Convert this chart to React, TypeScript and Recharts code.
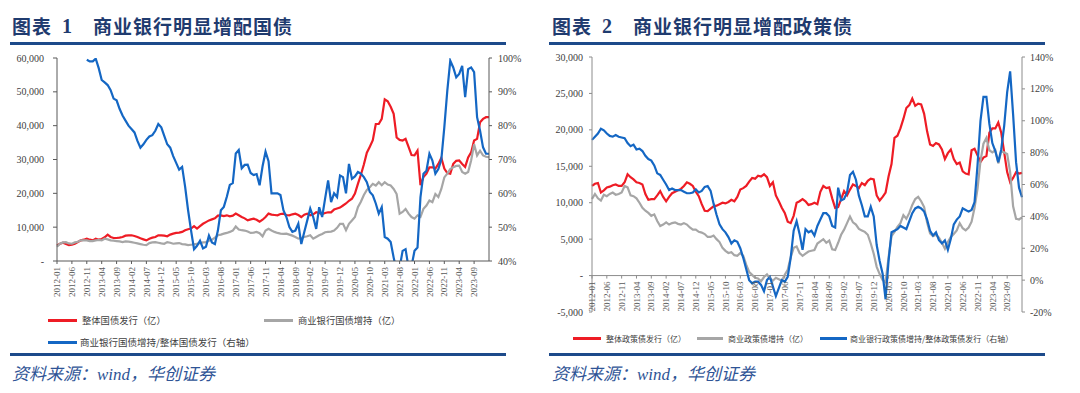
import React from "react";
import { LineChart, Line, XAxis, YAxis, ReferenceLine } from "recharts";

// ---------------------------------------------------------------------------
// Data (monthly, 2012-01 .. 2024-02)
// ---------------------------------------------------------------------------

const START_YEAR = 2012;
const N_MONTHS = 146;

const months: string[] = Array.from({ length: N_MONTHS }, (_, i) => {
  const y = START_YEAR + Math.floor(i / 12);
  const m = (i % 12) + 1;
  return `${y}-${String(m).padStart(2, "0")}`;
});

// every 5th month is labelled, up to 2023-09
const monthTicks = months.map((_, i) => i).filter((i) => i % 5 === 0 && i <= 140);

// 图表1 — 整体国债发行（亿）
const govIssue = [
  4600, 5100, 5400, 5000, 4700, 4800, 5100, 5600, 6100, 6300,
  6600, 6300, 6100, 6600, 6300, 6500, 7000, 7800, 7100, 6800,
  6800, 6900, 7100, 7500, 7600, 7600, 7400, 7100, 6700, 6400,
  6100, 6600, 6900, 7100, 7600, 7600, 7500, 7300, 7800, 8100,
  8300, 8400, 8600, 9100, 9400, 9600, 10300, 9600, 10300, 11000,
  11500, 12000, 12300, 12600, 13400, 13500, 13300, 13500, 13200, 13400,
  14000, 13500, 13000, 12600, 12000, 12300, 12500, 12200, 11600, 12200,
  13000, 14000, 13700, 13600, 13500, 13900, 14000, 13600, 13500, 13800,
  14000, 13600, 13000, 13700, 14000, 13500, 13800, 14400, 14200, 13900,
  14200, 14400, 14400, 15200, 15500, 15800, 16400, 17000, 17800, 18400,
  19900, 22800, 25500, 28500, 32000, 33800, 35700, 40500, 40500, 42000,
  47800, 47200, 45600, 43500, 36500, 35800, 35600, 36100, 33700, 31300,
  31200, 32600, 22400, 24800, 25800, 27700, 27700, 27300, 28700, 30500,
  27300, 26000, 25800, 28700, 29600, 29700, 28700, 27800, 30600, 32100,
  35600, 36100, 41000, 42000, 42500, 42500,
];

// 图表1 — 商业银行国债增持（亿）
const bankGovHold = [
  4200, 5100, 5500, 5600, 5200, 5100, 5500, 5700, 6100, 6100,
  6100, 5900, 5900, 6100, 6200, 6100, 6600, 6400, 6100, 6000,
  5900, 5800, 5600, 5800, 5700, 5600, 5400, 5200, 5000, 4800,
  4700, 5300, 5500, 5600, 5400, 5200, 5100, 5600, 5400, 5100,
  5200, 5300, 5000, 4900, 4700, 4800, 4900, 5100, 5300, 5500,
  5600, 6000, 6300, 6900, 7600, 7800, 8100, 8300, 8600, 9000,
  10200, 9300, 9100, 9000, 8700, 8300, 8400, 8600, 8200, 7300,
  9000, 9500, 9000, 8600, 8300, 8100, 8000, 8100, 7800, 7500,
  7100, 6600, 6800, 7100, 7300, 7600, 6600, 7100, 7600, 8000,
  8500, 8600, 8700, 9000, 9800, 11000, 11000, 9100, 11000, 12000,
  13000, 15900, 17500, 19500, 21000, 21800, 22800, 22300, 23300, 22400,
  23300, 22600, 22300, 21300, 19800, 14000, 14500, 15400, 14000, 13000,
  12500, 13500, 13000, 15400, 16400, 17900, 17400, 19800, 18900, 21300,
  24700, 25800, 27200, 27700, 28100, 28200, 26300, 25800, 26300, 29700,
  34500, 31200, 32600, 31200, 30800, 30700,
];

// 图表1 — 商业银行国债增持/整体国债发行（%，右轴）
const bankGovRatio: (number | null)[] = [
  null, null, null, null, null, null, null, null, null, null,
  99.5, 99, 99, 99.8, 97, 93.5, 92.8, 92, 90.5, 88,
  87.5, 85, 83, 81.5, 80, 79, 78, 75.5, 73.5, 74.5,
  75.8, 76.8, 77.2, 78.5, 80.5, 79.5, 77, 74.5, 73.5, 71,
  69, 67, 67.8, 62, 55, 49, 43.5, 44.5, 46, 43.7,
  44.2, 47.5, 45.5, 45, 49, 55, 56, 59, 62.5, 63,
  71.8, 72.8, 67.4, 68.4, 68.5, 66, 65.4, 65.7, 62.4, 68,
  72.3, 69.5, 60, 60, 60, 59.5, 55, 53, 50, 48.6,
  49, 51, 45, 48.6, 52, 55.5, 53, 49.5, 55.9, 53,
  58.5, 63.8, 57.4, 60, 58.9, 65.3, 64.8, 60, 68.7, 64.3,
  65, 66.3, 65.8, 64.8, 63.3, 60.4, 59.4, 57, 54, 55.9,
  47.1, 46.6, 45.6, 41, 37, 38, 43, 43.5, 38, 38.5,
  43, 44, 58.9, 65.8, 66.7, 71.7, 69.7, 65.8, 67.2, 70,
  79.5, 90.3, 99.2, 97.2, 94.3, 95.3, 97.7, 88.4, 96.7, 97.2,
  95.8, 82.5, 78.5, 73.6, 71.7, 71.7,
];

// 图表2 — 整体政策债发行（亿）
const policyIssue = [
  12300, 12600, 12700, 11400, 11700, 12100, 12200, 12400, 12500, 12300,
  12300, 12800, 13900, 13500, 13200, 12800, 12700, 12500, 11200, 10400,
  10500, 10500, 11000, 11600, 10800, 10200, 10800, 11300, 11500, 11700,
  11900, 12300, 12800, 12600, 12300, 11500, 10900, 9800, 8900, 8850,
  9200, 9500, 9600, 9800, 10000, 9900, 10100, 10400, 10200, 10800,
  11800, 12000, 12300, 12900, 13400, 13300, 13700, 13600, 13900, 13500,
  12300, 12800, 11000, 10200, 9300, 8600, 7400, 7200, 8200, 10000,
  10200, 10500, 10200, 9700, 9800, 10000, 9800, 11500, 12300, 12000,
  12100, 10600, 9300, 9400, 10500, 11600, 11000, 11800, 12500, 12300,
  12000, 12700, 12400, 13000, 13300, 13200, 11000, 10300, 10800, 11400,
  13600, 15300, 18900, 19200, 20200, 21500, 23000, 23400, 24300, 23300,
  23600, 23500, 22200, 19800, 18000, 17800, 18200, 18000, 17300, 16000,
  16800, 17300, 16000, 15300, 15500, 14300, 14000, 13900, 17200, 17400,
  16500, 15600, 16200, 16400, 19600, 20200, 20200, 21000, 19600, 16900,
  14200, 12800, 13400, 14200, 14000, 14100,
];

// 图表2 — 商业政策债增持（亿）
const bankPolicyHold = [
  10500, 11200, 10600, 10300, 11100, 10900, 11200, 11400, 11100, 11200,
  11400, 12300, 12100, 11000, 10900, 10600, 10000, 9300, 8900, 8600,
  8200, 8400, 7500, 6800, 7000, 7300, 7000, 7200, 7300, 7100,
  7000, 7200, 7000, 6600, 6300, 6300, 6000, 5900, 5700, 5300,
  5300, 5500, 5000, 4600, 3800, 3400, 3100, 3200, 2800, 2700,
  3100, 2700, 1500, 500, 100, -300, -400, -800, -200, 150,
  -400, -700, -300, -500, -700, 100, 800, 2500, 3800, 4000,
  3100, 2700, 3000, 3300, 3400, 3500, 4400, 4700, 5000, 4500,
  4800, 3600, 3500, 4500, 5600, 6300, 7200, 8100, 7300, 7000,
  6400, 6200, 6000, 5600, 4400, 3000, 1200, 200, -600, -900,
  2500, 5400, 6000, 6700, 7200, 8300, 7800, 8600, 9700, 10500,
  10800, 10200, 9400, 7300, 5800, 5400, 5600, 5200, 4500, 3700,
  4600, 5300, 5700, 6200, 7200, 6500, 6200, 6600, 7400, 9300,
  11900, 15700, 18100, 18900, 17200, 16900, 17200, 15400, 17100, 16900,
  16700, 14200, 9500, 7800, 7700, 8000,
];

// 图表2 — 商业银行政策债增持/整体政策债发行（%，右轴）
const bankPolicyRatio = [
  88, 90, 92, 95, 94, 92, 90.5, 90, 91, 90,
  89.5, 89, 86, 84, 85, 82, 82.5, 81, 78, 76,
  75, 72, 67, 66, 63, 60, 56.5, 57.5, 56.5, 56.5,
  56.5, 55.5, 54.5, 54.5, 55, 57, 55, 56, 58.5, 59,
  56, 48, 41, 35, 32, 30, 27, 23, 25, 24,
  20, 14, 7, 0, -2, -1, -1, -3, -7, 0,
  2, -4, -10, -5, 0, -1, 2, 14, 31, 37,
  29, 19, 32, 30, 31, 28, 34, 38, 42, 42,
  40, 34, 33, 58, 50, 51, 55, 66, 68, 63,
  53, 47, 40, 40, 46, 40, 22, 12, 4, -12,
  12, 30, 31, 32, 34, 33, 32, 37, 42, 45,
  46, 45, 43, 38, 31, 28, 30, 25, 23, 25,
  19, 26, 35, 38, 40, 45, 44, 43, 44, 49,
  72, 100, 115, 115, 98, 86, 81, 74, 82, 97,
  118, 131, 104, 74, 58, 52,
];

const govLeftTicks = [0, 10000, 20000, 30000, 40000, 50000, 60000];
const govRightTicks = [40, 50, 60, 70, 80, 90, 100];
const policyLeftTicks = [-5000, 0, 5000, 10000, 15000, 20000, 25000, 30000];
const policyRightTicks = [-20, 0, 20, 40, 60, 80, 100, 120, 140];

const govRows = months.map((m, i) => ({
  i,
  month: m,
  issue: govIssue[i],
  hold: bankGovHold[i],
  ratio: bankGovRatio[i],
}));

const policyRows = months.map((m, i) => ({
  i,
  month: m,
  issue: policyIssue[i],
  hold: bankPolicyHold[i],
  ratio: bankPolicyRatio[i],
}));

// ---------------------------------------------------------------------------
// Styles / helpers
// ---------------------------------------------------------------------------

const RED = "#EE1C25";
const GRAY = "#A6A6A6";
const BLUE = "#1467C4";
const NAVY = "#1F3B6F";
const RULE = "#1D4A8A";
const AXIS1 = "#595959";
const AXIS2 = "#8C8C8C";
const SERIF = '"Liberation Serif", "Times New Roman", serif';
const CJK = '"Noto Sans CJK SC", "Noto Sans", sans-serif';

const fmtAmt = (v: number) => (v === 0 ? "-" : v.toLocaleString("en-US"));
const fmtPct = (v: number) => `${v}%`;

const tickStyle = { fill: "#404040", fontSize: 10, fontFamily: SERIF };

function MonthTick(props: any) {
  const { x, y, payload, lift = 0, stroke } = props;
  return (
    <g transform={`translate(${x},${y - lift})`}>
      <line x1={0} y1={0} x2={0} y2={3} stroke={stroke} />
      <text
        x={-6}
        y={0}
        dy="0.35em"
        transform="rotate(-90)"
        textAnchor="end"
        fontSize={9}
        fill="#595959"
        fontFamily={SERIF}
      >
        {months[payload.value]}
      </text>
    </g>
  );
}

function Title({ left, num, text }: { left: number; num: string; text: string }) {
  return (
    <>
      <div
        style={{
          position: "absolute", left, top: 15, fontSize: 19, lineHeight: "22px",
          fontWeight: 700, color: NAVY, fontFamily: CJK, letterSpacing: 1,
        }}
      >
        图表
      </div>
      <div
        style={{
          position: "absolute", left: left + 50, top: 15, fontSize: 20, lineHeight: "22px",
          fontWeight: 700, color: NAVY, fontFamily: SERIF,
        }}
      >
        {num}
      </div>
      <div
        style={{
          position: "absolute", left: left + 81, top: 15, fontSize: 19, lineHeight: "22px",
          fontWeight: 700, color: NAVY, fontFamily: CJK, letterSpacing: 1,
        }}
      >
        {text}
      </div>
    </>
  );
}

function Rule({ left, top, width }: { left: number; top: number; width: number }) {
  return <div style={{ position: "absolute", left, top, width, height: 3, background: RULE }} />;
}

function Source({ left }: { left: number }) {
  return (
    <div
      style={{
        position: "absolute", left, top: 365, fontSize: 17, lineHeight: "20px",
        fontStyle: "italic", color: "#2F5496", fontFamily: `${SERIF.split(",")[0]}, ${CJK}`,
      }}
    >
      资料来源：wind，华创证券
    </div>
  );
}

function LegendItem({
  left, top, color, label, fontSize, swatch = 29, gap = 5,
}: {
  left: number; top: number; color: string; label: string; fontSize: number; swatch?: number; gap?: number;
}) {
  return (
    <div
      style={{
        position: "absolute", left, top: top - 8, height: 16, display: "flex", alignItems: "center",
        fontFamily: CJK, fontSize, color: "#404040", whiteSpace: "nowrap",
      }}
    >
      <span style={{ display: "inline-block", width: swatch, height: 3, background: color, marginRight: gap }} />
      {label}
    </div>
  );
}

// ---------------------------------------------------------------------------
// Charts
// ---------------------------------------------------------------------------

function GovChart() {
  return (
    <div style={{ position: "absolute", left: 0, top: 0 }}>
      <LineChart width={540} height={310} data={govRows} margin={{ top: 58, right: 11, bottom: 19, left: 7 }}>
        <XAxis
          dataKey="i"
          type="number"
          domain={[0, N_MONTHS - 1]}
          ticks={monthTicks}
          interval={0}
          height={30}
          axisLine={{ stroke: AXIS1 }}
          tickLine={false}
          tickSize={0}
          tickMargin={0}
          tick={(p: any) => <MonthTick {...p} lift={0} stroke={AXIS1} />}
        />
        <YAxis
          yAxisId="l"
          domain={[0, 60000]}
          ticks={govLeftTicks}
          interval={0}
          width={50}
          tickSize={4}
          tickMargin={9}
          axisLine={{ stroke: AXIS1 }}
          tickLine={{ stroke: AXIS1 }}
          tickFormatter={fmtAmt}
          tick={tickStyle}
        />
        <YAxis
          yAxisId="r"
          orientation="right"
          domain={[40, 100]}
          ticks={govRightTicks}
          interval={0}
          allowDataOverflow
          width={40}
          tickSize={3}
          tickMargin={6}
          axisLine={{ stroke: AXIS1 }}
          tickLine={{ stroke: AXIS1 }}
          tickFormatter={fmtPct}
          tick={{ ...tickStyle, textAnchor: "start" }}
        />
        <Line yAxisId="l" dataKey="issue" stroke={RED} strokeWidth={2.2} dot={false} isAnimationActive={false} />
        <Line yAxisId="l" dataKey="hold" stroke={GRAY} strokeWidth={2.2} dot={false} isAnimationActive={false} />
        <Line yAxisId="r" dataKey="ratio" stroke={BLUE} strokeWidth={2.2} dot={false} isAnimationActive={false} />
      </LineChart>
    </div>
  );
}

const P_TOP = 57;
const P_BOTTOM = 312;
const P_LIFT = ((P_BOTTOM - P_TOP) * (0 - policyLeftTicks[0])) / (policyLeftTicks[policyLeftTicks.length - 1] - policyLeftTicks[0]);

function PolicyChart() {
  return (
    <div style={{ position: "absolute", left: 540, top: 0 }}>
      <LineChart width={540} height={330} data={policyRows} margin={{ top: P_TOP, right: 13, bottom: 8, left: 7 }}>
        <XAxis
          dataKey="i"
          type="number"
          domain={[0, N_MONTHS - 1]}
          ticks={monthTicks}
          interval={0}
          height={10}
          axisLine={false}
          tickLine={false}
          tickSize={0}
          tickMargin={0}
          tick={(p: any) => <MonthTick {...p} lift={P_LIFT} stroke={AXIS2} />}
        />
        <YAxis
          yAxisId="l"
          domain={[-5000, 30000]}
          ticks={policyLeftTicks}
          interval={0}
          width={45}
          tickSize={3}
          tickMargin={6}
          axisLine={{ stroke: AXIS2 }}
          tickLine={{ stroke: AXIS2 }}
          tickFormatter={fmtAmt}
          tick={tickStyle}
        />
        <YAxis
          yAxisId="r"
          orientation="right"
          domain={[-20, 140]}
          ticks={policyRightTicks}
          interval={0}
          width={45}
          tickSize={3}
          tickMargin={5}
          axisLine={{ stroke: AXIS2 }}
          tickLine={{ stroke: AXIS2 }}
          tickFormatter={fmtPct}
          tick={{ ...tickStyle, textAnchor: "start" }}
        />
        <ReferenceLine yAxisId="l" y={0} stroke={AXIS2} strokeWidth={1} />
        <Line yAxisId="l" dataKey="issue" stroke={RED} strokeWidth={2.2} dot={false} isAnimationActive={false} />
        <Line yAxisId="l" dataKey="hold" stroke={GRAY} strokeWidth={2.2} dot={false} isAnimationActive={false} />
        <Line yAxisId="r" dataKey="ratio" stroke={BLUE} strokeWidth={2.2} dot={false} isAnimationActive={false} />
      </LineChart>
    </div>
  );
}

// ---------------------------------------------------------------------------
// App
// ---------------------------------------------------------------------------

export default function App() {
  return (
    <div style={{ position: "absolute", left: 0, top: 0, width: 1080, height: 393, background: "#fff", overflow: "hidden" }}>
      <Title left={12} num="1" text="商业银行明显增配国债" />
      <Title left={552} num="2" text="商业银行明显增配政策债" />
      <Rule left={10} top={42} width={496} />
      <Rule left={549} top={42} width={496} />

      <GovChart />
      <PolicyChart />

      <LegendItem left={48} top={320} color={RED} label="整体国债发行（亿）" fontSize={9.3} />
      <LegendItem left={264} top={320} color={GRAY} label="商业银行国债增持（亿）" fontSize={9.3} />
      <LegendItem left={48} top={342} color={BLUE} label="商业银行国债增持/整体国债发行（右轴）" fontSize={9.5} gap={3} />

      <LegendItem left={573} top={338} color={RED} label="整体政策债发行（亿）" fontSize={8} swatch={28} />
      <LegendItem left={697} top={338} color={GRAY} label="商业政策债增持（亿）" fontSize={8} swatch={26} />
      <LegendItem left={820} top={338} color={BLUE} label="商业银行政策债增持/整体政策债发行（右轴）" fontSize={8} swatch={27} gap={3} />

      <Rule left={10} top={353} width={496} />
      <Rule left={549} top={353} width={496} />
      <Source left={12} />
      <Source left={552} />
    </div>
  );
}
